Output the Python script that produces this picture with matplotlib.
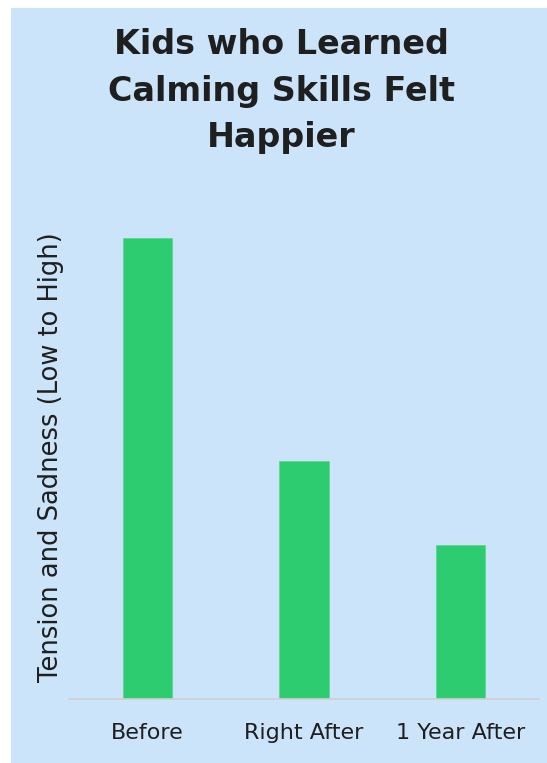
import matplotlib
matplotlib.use("Agg")
import matplotlib.pyplot as plt
from matplotlib.patches import Rectangle

# Data
categories = ["Before", "Right After", "1 Year After"]
scores = [60, 31, 20]

title_lines = ["Kids who Learned", "Calming Skills Felt", "Happier"]
ylabel = "Tension and Sadness (Low to High)"

W, H = 547, 763
BG = "#cbe4fa"
BAR = "#2ecc71"
TEXT = "#1f1f1f"

plt.rcParams["font.family"] = ["DejaVu Sans"]

fig = plt.figure(figsize=(W / 100, H / 100), dpi=100, facecolor="white")

# light blue panel behind everything
fig.patches.append(Rectangle((11 / W, 0), 1 - 11 / W, 1 - 8 / H,
                             transform=fig.transFigure, facecolor=BG,
                             edgecolor="none", zorder=-5))

ax = fig.add_axes([69 / W, 64 / H, (539 - 69) / W, (699 - 215) / H])
ax.set_facecolor("none")
ax.set_zorder(2)

x = range(len(categories))
ax.bar(x, scores, width=0.313, color=BAR, edgecolor="#5fd98f", linewidth=0.6, zorder=2)

ax.set_xlim(-0.5, len(categories) - 0.5)
ax.set_ylim(0, 63)
ax.set_xticks(list(x))
ax.set_xticklabels(categories, fontsize=16, color=TEXT)
ax.tick_params(axis="x", length=0, pad=17)
ax.set_yticks([])

for side in ("top", "right", "left"):
    ax.spines[side].set_visible(False)
ax.spines["bottom"].set_color("#cfcfcf")
ax.spines["bottom"].set_linewidth(1.2)

fig.text(51 / W, 1 - 457 / H, ylabel, rotation=90, ha="center", va="center",
         fontsize=18.5, color=TEXT)

for i, line in enumerate(title_lines):
    fig.text(281 / W, 1 - (45 + 46 * i) / H, line, ha="center", va="center",
             fontsize=24, fontweight="bold", color=TEXT)

fig.savefig("out.png", dpi=100, facecolor="white")
